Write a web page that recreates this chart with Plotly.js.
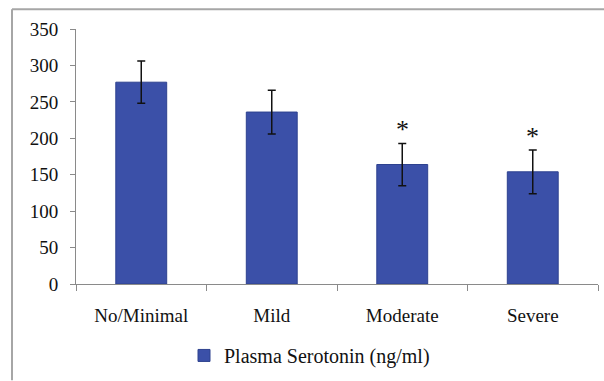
<!DOCTYPE html>
<html>
<head>
<meta charset="utf-8">
<script src="https://cdn.plot.ly/plotly-3.0.1.min.js"></script>
<style>html,body{margin:0;padding:0;background:#fff;}#chart{width:604px;height:381px;}</style>
</head>
<body>
<div id="chart"></div>
<script>
const categories = ["No/Minimal", "Mild", "Moderate", "Severe"];
const serotonin = [277, 236, 164, 154];
const serotoninErr = [29, 30, 29, 30];
const significant = [false, false, true, true];
const yTicks = [0, 50, 100, 150, 200, 250, 300, 350];
const seriesName = "Plasma Serotonin (ng/ml)";

const W = 604, H = 381;
const M = {l: 76, r: 6, t: 29, b: 95};
const pw = W - M.l - M.r, ph = H - M.t - M.b;
const px = v => (v - M.l) / pw;
const py = v => (H - M.b - v) / ph;

const font = "Liberation Serif, Times New Roman, serif";

const annotations = categories.map((c, i) => significant[i] ? {
  x: c, y: serotonin[i] + serotoninErr[i], xref: 'x', yref: 'y',
  text: '*', showarrow: false, yanchor: 'bottom', yshift: -3,
  font: {family: font, size: 26, color: '#111'}
} : null).filter(a => a);

const trace = {
  type: 'bar', x: categories, y: serotonin, name: seriesName,
  marker: {color: '#3b50a8', line: {color: '#2e428f', width: 1}},
  error_y: {type: 'data', array: serotoninErr, visible: true, color: '#111', thickness: 1.5, width: 4},
  width: 0.39
};

const layout = {
  width: W, height: H,
  margin: {l: M.l, r: M.r, t: M.t, b: M.b, pad: 0},
  paper_bgcolor: '#fff', plot_bgcolor: '#fff',
  font: {family: font, size: 19, color: '#111'},
  showlegend: true,
  legend: {orientation: 'h', x: px(184), xanchor: 'left', y: py(358), yanchor: 'middle',
           font: {family: font, size: 20, color: '#111'}, itemwidth: 30, bgcolor: 'rgba(0,0,0,0)'},
  xaxis: {type: 'category', showline: true, linecolor: '#8a8a8a', linewidth: 1,
          ticks: 'outside', tickson: 'boundaries', ticklen: 6, tickcolor: '#8a8a8a',
          showgrid: false, zeroline: false, ticklabelstandoff: 14,
          range: [-0.5, 3.5]},
  yaxis: {range: [0, 350], tickvals: yTicks, showline: true, linecolor: '#8a8a8a', linewidth: 1,
          ticks: 'outside', ticklen: 5, tickcolor: '#8a8a8a', showgrid: false, zeroline: false,
          ticklabelstandoff: 8},
  annotations: annotations,
  shapes: [
    {type: 'line', xref: 'paper', yref: 'paper', x0: px(12), x1: px(W + 2), y0: py(9), y1: py(9),
     line: {color: '#a6a6a6', width: 2}},
    {type: 'line', xref: 'paper', yref: 'paper', x0: px(12), x1: px(12), y0: py(9), y1: py(H + 2),
     line: {color: '#a6a6a6', width: 2}}
  ]
};

Plotly.newPlot('chart', [trace], layout, {displayModeBar: false, staticPlot: true});
</script>
</body>
</html>
